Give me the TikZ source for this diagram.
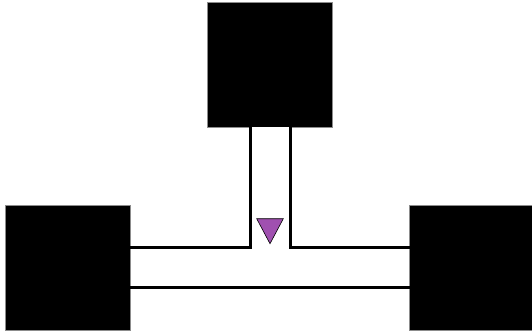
\documentclass[tikz,border=0pt]{standalone}
\usepackage{xcolor}
\definecolor{chip-main}{HTML}{000000}
\definecolor{chip-edge}{HTML}{8C8C8C}
\definecolor{chip-white}{HTML}{FFFFFF}
\definecolor{chip-drop}{HTML}{A050B0}
\usepackage{tikz}

\begin{document}
\begin{tikzpicture}[x=1pt, y=-1pt]

    % Frame
    \useasboundingbox (0, 0) rectangle (532, 332);

    % Reservoirs
    \filldraw[chip-main, draw=chip-edge, line width=0.6pt] (207.5, 2) rectangle (332.5, 127);
    \filldraw[chip-main, draw=chip-edge, line width=0.6pt] (5, 205) rectangle (130, 330);
    \filldraw[chip-main, draw=chip-edge, line width=0.6pt] (409.5, 205) rectangle (534.5, 330);

% Canal horizontal
\fill[chip-white] (130, 247) rectangle (409.5, 287.5);
\draw[chip-edge, line width=0.6pt] (130, 247) -- (130, 287.5);
\draw[chip-edge, line width=0.6pt] (409.5, 247) -- (409.5, 287.5);

% Canal vertical
\fill[chip-white] (250, 127) rectangle (290.5, 247);

% Paredes del canal
\draw[chip-main, line width=3pt] (130, 247) -- (250, 247) -- (250, 127);
\draw[chip-main, line width=3pt] (290.5, 127) -- (290.5, 247) -- (409.5, 247);
\draw[chip-main, line width=3pt] (130, 287.5) -- (409.5, 287.5);

% Gota
\filldraw[chip-drop, draw=chip-main, line width=0.6pt] (256.7, 218.7) -- (283.3, 218.7) -- (270, 243.7) -- cycle;

\end{tikzpicture}
\end{document}
